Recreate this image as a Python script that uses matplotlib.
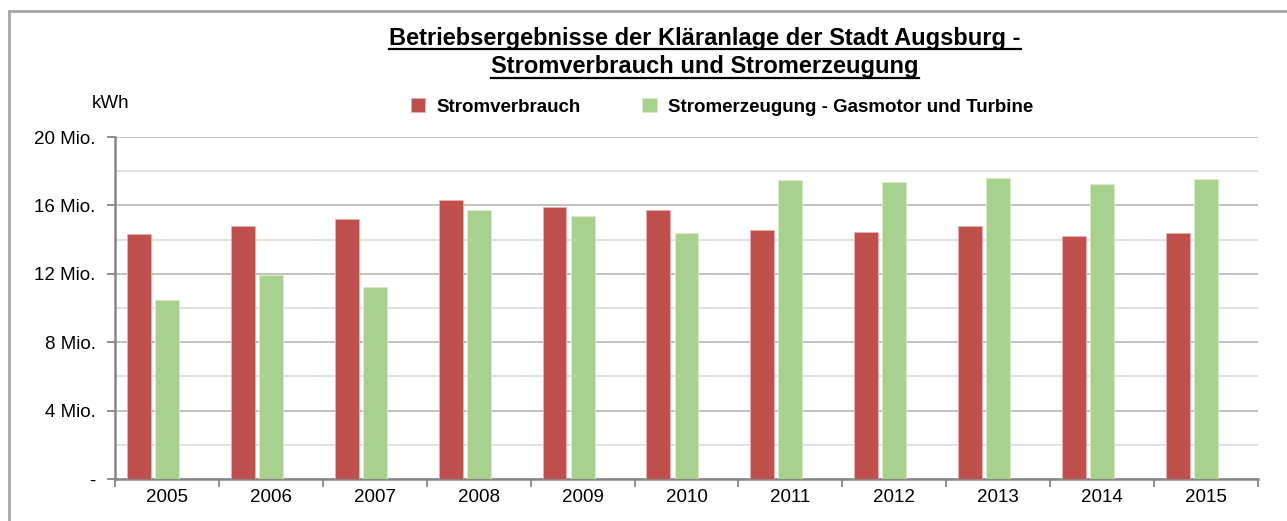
import matplotlib.pyplot as plt
import numpy as np
from matplotlib.lines import Line2D
from matplotlib.patches import Rectangle

# Daten (kWh, in Mio.)
jahre = ['2005', '2006', '2007', '2008', '2009', '2010', '2011', '2012', '2013', '2014', '2015']
stromverbrauch = [14.33, 14.78, 15.20, 16.32, 15.90, 15.73, 14.56, 14.44, 14.80, 14.21, 14.37]
stromerzeugung = [10.47, 11.93, 11.21, 15.71, 15.38, 14.39, 17.49, 17.37, 17.62, 17.25, 17.53]
y_ticks = [0, 4, 8, 12, 16, 20]
y_labels = ['-', '4 Mio.', '8 Mio.', '12 Mio.', '16 Mio.', '20 Mio.']

rot = '#c0504d'
gruen = '#a9d18e'
achse = '#868686'

plt.rcParams['font.family'] = ['Liberation Sans', 'DejaVu Sans']

W, H = 1287, 521
fig = plt.figure(figsize=(W / 100, H / 100), dpi=100)

# Rahmen um das Diagramm
fig.patches.append(Rectangle((9 / W, -0.05), 1.2, (H - 11) / H + 0.05, transform=fig.transFigure,
                             fill=False, edgecolor='#a6a6a6', linewidth=2))

ax = fig.add_axes([115 / W, (H - 479) / H, (1258 - 115) / W, (479 - 137) / H])

x = np.arange(len(jahre))
breite = 0.23
abstand = 0.27
ax.bar(x - abstand, stromverbrauch, breite, color=rot, edgecolor='#e8b0ae', linewidth=0.6,
       label='Stromverbrauch', zorder=3)
ax.bar(x, stromerzeugung, breite, color=gruen, edgecolor='#d8ecc8', linewidth=0.6,
       label='Stromerzeugung - Gasmotor und Turbine', zorder=3)

ax.set_xlim(-0.5, len(jahre) - 0.5)
ax.set_ylim(0, 20)

ax.set_yticks(y_ticks)
ax.set_yticklabels(y_labels, fontsize=13.5)
ax.set_yticks(np.arange(2, 20, 4), minor=True)
ax.tick_params(axis='y', which='major', length=6, width=1.3, color=achse, pad=8)
ax.tick_params(axis='y', which='minor', length=0)

ax.set_xticks(x)
ax.set_xticklabels(jahre, fontsize=13.5)
ax.set_xticks(np.arange(-0.5, len(jahre), 1), minor=True)
ax.tick_params(axis='x', which='major', length=0, pad=7)
ax.tick_params(axis='x', which='minor', length=6, width=1.3, color=achse)

ax.grid(axis='y', which='major', color='#bdbdbd', linewidth=1.3, zorder=0)
ax.grid(axis='y', which='minor', color='#dedede', linewidth=1.3, zorder=0)
ax.set_axisbelow(True)

for s in ['top', 'right']:
    ax.spines[s].set_visible(False)
for s in ['left', 'bottom']:
    ax.spines[s].set_color(achse)
    ax.spines[s].set_linewidth(1.8)

fig.text(92 / W, 1 - 104 / H, 'kWh', fontsize=13.5, va='center', ha='left')

leg = fig.legend(loc='center', bbox_to_anchor=(722 / W, 1 - 107 / H), ncol=2, frameon=False,
                 fontsize=13.5, handlelength=0.75, handleheight=0.75, columnspacing=3.3,
                 handletextpad=0.6)
for t in leg.get_texts():
    t.set_fontweight('bold')

# Titel mit Unterstreichung
titel = []
titel.append(fig.text(705 / W, 1 - 38 / H, 'Betriebsergebnisse der Kläranlage der Stadt Augsburg -',
                      fontsize=17, fontweight='bold', ha='center', va='center'))
titel.append(fig.text(705 / W, 1 - 67 / H, 'Stromverbrauch und Stromerzeugung',
                      fontsize=17, fontweight='bold', ha='center', va='center'))
fig.canvas.draw()
r = fig.canvas.get_renderer()
for t in titel:
    bb = t.get_window_extent(r)
    y0 = bb.y0 + 1
    fig.lines.append(Line2D([bb.x0 / W, bb.x1 / W], [y0 / H, y0 / H], transform=fig.transFigure,
                            color='black', linewidth=1.6))

fig.savefig('out.png', dpi=100)
